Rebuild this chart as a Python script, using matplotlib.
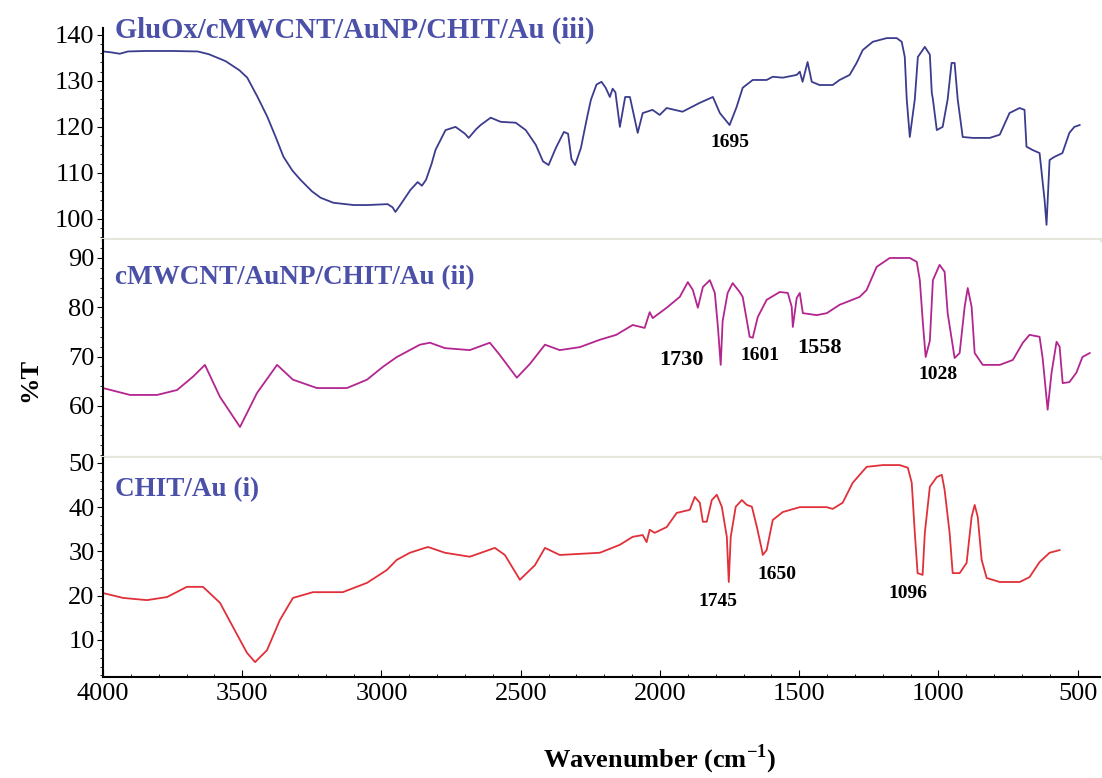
import matplotlib
matplotlib.use('Agg')
import matplotlib.pyplot as plt
from matplotlib.ticker import MultipleLocator

plt.rcParams['font.family'] = 'Liberation Serif'
plt.rcParams['mathtext.fontset'] = 'custom'
plt.rcParams['mathtext.rm'] = 'Liberation Serif:bold'
plt.rcParams['mathtext.bf'] = 'Liberation Serif:bold'

# (iii) GluOx/cMWCNT/AuNP/CHIT/Au
wn_iii = [4000, 3970, 3940, 3910, 3850, 3750, 3660, 3620, 3560, 3510, 3482, 3445, 3410, 3380,
          3352, 3320, 3291, 3250, 3219, 3173, 3100, 3050, 2978, 2960, 2950, 2935, 2896, 2870,
          2855, 2840, 2820, 2806, 2770, 2734, 2700, 2687, 2660, 2644, 2608, 2572, 2518, 2482,
          2446, 2420, 2400, 2374, 2345, 2330, 2318, 2305, 2284, 2262, 2248, 2228, 2210, 2195,
          2180, 2170, 2160, 2144, 2125, 2108, 2080, 2062, 2027, 2001, 1976, 1919, 1858, 1810,
          1785, 1750, 1725, 1703, 1667, 1617, 1595, 1559, 1509, 1498, 1488, 1470, 1455, 1427,
          1380, 1355, 1319, 1294, 1272, 1236, 1186, 1150, 1132, 1121, 1114, 1103, 1085, 1074,
          1049, 1031, 1024, 1020, 1006, 985, 967, 953, 942, 931, 913, 877, 816, 780, 745, 709,
          691, 684, 663, 637, 619, 612, 601, 583, 555, 530, 512, 493]
t_iii = [136.4, 136.2, 135.9, 136.4, 136.5, 136.5, 136.4, 135.8, 134.3, 132.3, 130.7, 126.5,
         122.2, 117.8, 113.5, 110.5, 108.5, 106.0, 104.6, 103.5, 103.0, 103.0, 103.2, 102.5,
         101.5, 102.8, 106.3, 108.0, 107.2, 108.5, 112.0, 115.0, 119.3, 120.0, 118.5, 117.6,
         119.5, 120.4, 122.0, 121.1, 120.9, 119.3, 116.1, 112.5, 111.7, 115.4, 118.9, 118.5,
         113.0, 111.7, 115.4, 122.0, 125.9, 129.2, 129.8, 128.5, 126.5, 128.3, 127.5, 120.0,
         126.5, 126.5, 118.7, 123.0, 123.7, 122.6, 124.1, 123.3, 125.2, 126.5, 123.0, 120.4,
         124.3, 128.5, 130.2, 130.2, 130.9, 130.7, 131.3, 132.0, 129.8, 134.1, 129.8, 129.1,
         129.1, 130.2, 131.3, 133.9, 136.7, 138.5, 139.3, 139.3, 138.5, 135.2, 126.0, 117.8,
         126.0, 135.2, 137.4, 135.7, 127.4, 126.0, 119.3, 120.0, 126.0, 133.9, 133.9, 126.0,
         117.8, 117.6, 117.6, 118.3, 123.0, 124.1, 123.7, 115.7, 115.0, 114.3, 104.1, 98.7,
         112.8, 113.5, 114.3, 118.7, 120.0, 120.4]

# (ii) cMWCNT/AuNP/CHIT/Au
wn_ii = [4000, 3903, 3806, 3734, 3677, 3634, 3580, 3508, 3447, 3375, 3318, 3232, 3124, 3052,
         2995, 2945, 2862, 2826, 2772, 2683, 2611, 2575, 2514, 2467, 2413, 2360, 2288, 2216,
         2157, 2098, 2055, 2037, 2026, 1976, 1929, 1900, 1882, 1864, 1846, 1821, 1803, 1792,
         1782, 1775, 1757, 1739, 1714, 1703, 1678, 1667, 1649, 1617, 1570, 1541, 1527, 1523,
         1509, 1498, 1487, 1437, 1401, 1355, 1283, 1258, 1222, 1175, 1103, 1078, 1067, 1056,
         1046, 1031, 1020, 996, 978, 967, 942, 924, 906, 895, 881, 870, 841, 780, 733, 697,
         673, 637, 626, 608, 594, 576, 565, 554, 530, 505, 483, 457]
t_ii = [63.6, 62.2, 62.2, 63.2, 65.9, 68.3, 61.8, 55.7, 62.6, 68.3, 65.3, 63.6, 63.6, 65.3,
        67.9, 69.9, 72.4, 72.8, 71.7, 71.3, 72.8, 70.3, 65.7, 68.5, 72.4, 71.3, 71.9, 73.4,
        74.4, 76.4, 75.8, 79.0, 77.8, 79.9, 82.1, 85.1, 83.5, 79.9, 84.1, 85.5, 82.9, 76.0,
        68.3, 77.2, 82.9, 84.9, 83.1, 82.1, 74.0, 73.8, 78.0, 81.5, 83.1, 82.9, 80.1, 76.0,
        81.9, 82.9, 78.8, 78.4, 78.8, 80.5, 82.1, 83.5, 88.2, 90.0, 90.0, 89.2, 85.5, 76.8,
        69.9, 73.2, 85.5, 88.6, 87.2, 78.8, 69.7, 70.7, 80.1, 83.9, 80.1, 70.7, 68.3, 68.3,
        69.3, 72.8, 74.4, 74.0, 69.7, 59.2, 66.7, 73.0, 72.0, 64.6, 64.8, 66.7, 69.9, 70.7]

# (i) CHIT/Au
wn_i = [4000, 3928, 3842, 3770, 3699, 3641, 3580, 3533, 3483, 3454, 3411, 3365, 3318, 3246,
        3139, 3052, 2981, 2945, 2898, 2844, 2833, 2772, 2683, 2593, 2557, 2503, 2449, 2413,
        2360, 2216, 2144, 2098, 2062, 2048, 2037, 2019, 1976, 1940, 1893, 1875, 1857, 1846,
        1832, 1814, 1796, 1778, 1760, 1753, 1746, 1728, 1706, 1688, 1670, 1652, 1634, 1631,
        1617, 1595, 1559, 1498, 1401, 1380, 1344, 1308, 1258, 1200, 1139, 1110, 1096, 1085,
        1075, 1057, 1049, 1031, 1006, 988, 978, 960, 949, 924, 899, 881, 870, 859, 845, 827,
        780, 708, 673, 637, 601, 565]
t_i = [20.6, 19.5, 19.0, 19.7, 22.0, 22.0, 18.4, 12.9, 7.1, 5.0, 7.7, 14.5, 19.5, 20.8,
       20.8, 22.9, 25.8, 28.1, 29.7, 30.8, 31.0, 29.7, 28.8, 30.8, 29.2, 23.6, 26.9, 30.8,
       29.2, 29.7, 31.5, 33.3, 33.7, 32.1, 34.9, 34.2, 35.5, 38.7, 39.4, 42.3, 41.0, 36.7,
       36.7, 41.6, 42.8, 40.1, 33.3, 23.1, 33.3, 40.1, 41.6, 40.5, 40.1, 35.5, 30.3, 29.2,
       30.3, 37.1, 38.9, 40.0, 40.0, 39.6, 41.0, 45.5, 49.1, 49.5, 49.5, 48.9, 45.5, 34.2,
       25.1, 24.7, 34.2, 44.6, 46.8, 47.3, 43.9, 34.2, 25.1, 25.1, 27.4, 37.8, 40.5, 37.8,
       28.1, 24.0, 23.1, 23.1, 24.2, 27.6, 29.7, 30.3]

titles = ['GluOx/cMWCNT/AuNP/CHIT/Au (iii)', 'cMWCNT/AuNP/CHIT/Au (ii)', 'CHIT/Au (i)']
title_sizes = [20.7, 19.5, 19.5]
peaks_iii = [('1695', 1750, 116.7, 14)]
peaks_ii = [('1730', 1922, 69.3, 16), ('1601', 1642, 70.3, 14),
            ('1558', 1426, 71.7, 16), ('1028', 1003, 66.3, 14)]
peaks_i = [('1745', 1793, 18.8, 14), ('1650', 1581, 24.9, 14), ('1096', 1111, 20.4, 14)]

fig = plt.figure(figsize=(11.02, 7.78), dpi=100)
left, width = 103 / 1102, 997 / 1102
ax3 = fig.add_axes([left, 538 / 778, width, 212 / 778])
ax2 = fig.add_axes([left, 320 / 778, width, 218 / 778])
ax1 = fig.add_axes([left, 101 / 778, width, 219 / 778])

panels = [
    (ax3, wn_iii, t_iii, '#3c3c8e', (95.4, 141.5), [100, 110, 120, 130, 140], peaks_iii, 141.0),
    (ax2, wn_ii, t_ii, '#b3258f', (49.4, 93.65), [60, 70, 80, 90], peaks_ii, 86.1),
    (ax1, wn_i, t_i, '#e0303a', (1.64, 51.1), [10, 20, 30, 40, 50], peaks_i, 43.9),
]

for i, (ax, wn, t, col, ylim, yt, peaks, ty) in enumerate(panels):
    ax.plot(wn, t, color=col, lw=1.3)
    ax.set_xlim(4000, 420)
    ax.set_ylim(*ylim)
    ax.set_yticks(yt)
    ax.yaxis.set_minor_locator(MultipleLocator(2))
    ax.tick_params(axis='y', which='major', direction='out', length=4, labelsize=19, pad=2)
    ax.tick_params(axis='y', which='minor', direction='out', length=2)
    ax.spines['top'].set_visible(False)
    ax.spines['right'].set_visible(False)
    ax.spines['left'].set_linewidth(1.5)
    ax.text(3957, ty, titles[i], color='#4b50a8', fontsize=title_sizes[i], fontweight='bold',
            ha='left', va='center')
    for lab, px, py, fs in peaks:
        ax.text(px, py, lab, fontsize=fs, fontweight='bold', ha='center', va='center')
    if i < 2:
        ax.spines['bottom'].set_color('#e6e6dc')
        ax.spines['bottom'].set_linewidth(3)
        ax.tick_params(axis='x', which='both', bottom=False, labelbottom=False)
    else:
        ax.spines['bottom'].set_linewidth(1.5)
        ax.set_xticks([4000, 3500, 3000, 2500, 2000, 1500, 1000, 500])
        ax.xaxis.set_minor_locator(MultipleLocator(100))
        ax.tick_params(axis='x', which='major', direction='in', length=5, labelsize=19, pad=4)
        ax.tick_params(axis='x', which='minor', direction='in', length=2)

fig.text(0.027, 0.512, '%T', rotation=90, fontsize=19, fontweight='bold',
         ha='center', va='center')
fig.text(660 / 1102, 0.024, r'Wavenumber (cm$^{\mathbf{-1}}$)', fontsize=19,
         fontweight='bold', ha='center', va='center')

fig.savefig('out.png', dpi=100)
